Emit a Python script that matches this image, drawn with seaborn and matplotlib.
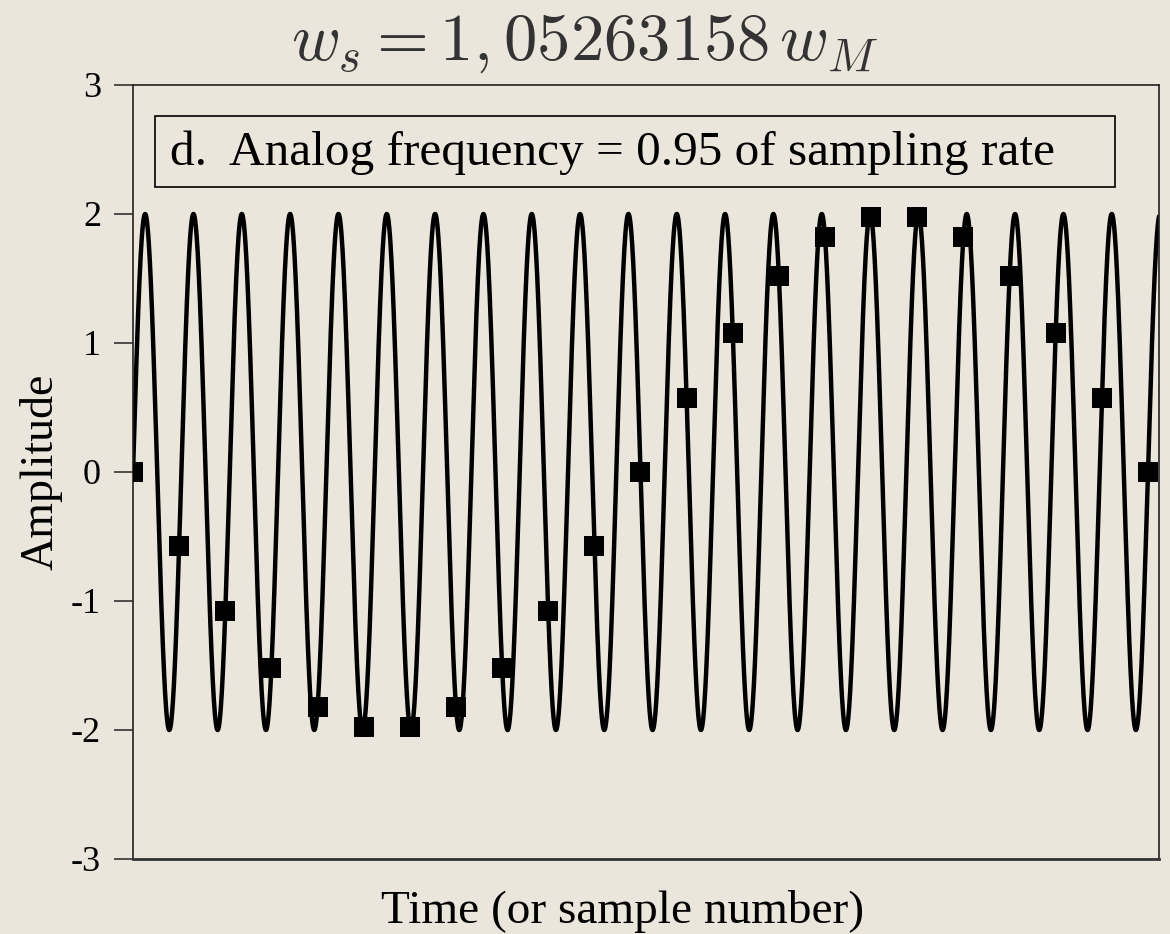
import matplotlib

matplotlib.use("Agg")
import matplotlib.pyplot as plt
import numpy as np
import pandas as pd
import seaborn as sns
from matplotlib.patches import Rectangle

SAMPLE_N = list(range(23))
SAMPLE_AMP = [0.0, -0.57, -1.08, -1.52, -1.82, -1.98, -1.98, -1.82, -1.52, -1.08, -0.57,
              0.0, 0.57, 1.08, 1.52, 1.82, 1.98, 1.98, 1.82, 1.52, 1.08, 0.57, 0.0]

# analog signal: 2-volt sine, ~21 cycles over 22 samples
ANALOG_AMP = 2.0
ANALOG_FREQ = 0.9545  # cycles per sample
T_MAX = 22.24

Y_TICKS = [-3, -2, -1, 0, 1, 2, 3]
BG = "#eae6dc"

sns.set_style("ticks")
plt.rcParams["font.family"] = ["Liberation Serif", "DejaVu Serif"]
plt.rcParams["mathtext.fontset"] = "cm"
plt.rcParams["text.color"] = "black"
plt.rcParams["axes.labelcolor"] = "black"
plt.rcParams["ytick.labelcolor"] = "black"

t = np.linspace(0, T_MAX, 4000)
analog = pd.DataFrame({"t": t, "amp": ANALOG_AMP * np.sin(2 * np.pi * ANALOG_FREQ * t)})
samples = pd.DataFrame({"n": SAMPLE_N, "amp": SAMPLE_AMP})

fig = plt.figure(figsize=(11.7, 9.34), dpi=100, facecolor=BG)
ax = fig.add_axes([0.1137, 0.0803, 0.8769, 0.8287])
ax.set_facecolor(BG)

sns.lineplot(data=analog, x="t", y="amp", ax=ax, color="black", linewidth=3.2)
sns.scatterplot(data=samples, x="n", y="amp", ax=ax, marker="s", s=190, color="black",
                edgecolor="black", linewidth=0, zorder=3)

ax.set_xlim(0, T_MAX)
ax.set_ylim(-3, 3)
ax.set_yticks(Y_TICKS)
ax.set_yticklabels([str(v) for v in Y_TICKS], fontsize=26, color="black")
ax.set_xticks([])
ax.tick_params(axis="y", direction="out", length=14, width=1.2, color="#333333", pad=9)
for side in ["top", "right", "left"]:
    ax.spines[side].set_visible(True)
    ax.spines[side].set_linewidth(1.2)
    ax.spines[side].set_color("#222222")
ax.spines["bottom"].set_linewidth(2.0)
ax.spines["bottom"].set_color("#333333")

ax.set_xlabel("Time (or sample number)", fontsize=34, color="black")
ax.xaxis.set_label_coords(0.477, -0.040, transform=ax.transAxes)
ax.xaxis.label.set_va("top")
ax.set_ylabel("Amplitude", fontsize=33, labelpad=6, color="black")

ax.add_patch(Rectangle((0.0214, 0.868), 0.9356, 0.092, transform=ax.transAxes,
                       facecolor="none", edgecolor="black", linewidth=1.2, zorder=4))
ax.text(0.036, 0.913, "d.  Analog frequency = 0.95 of sampling rate", transform=ax.transAxes,
        fontsize=35.5, ha="left", va="center", color="black", zorder=5)

fig.text(0.5, 0.953, r"$w_s = 1,05263158\,w_M$", fontsize=48, ha="center", va="center",
         color="#333333")

fig.savefig("out.png", dpi=100, facecolor=BG)
